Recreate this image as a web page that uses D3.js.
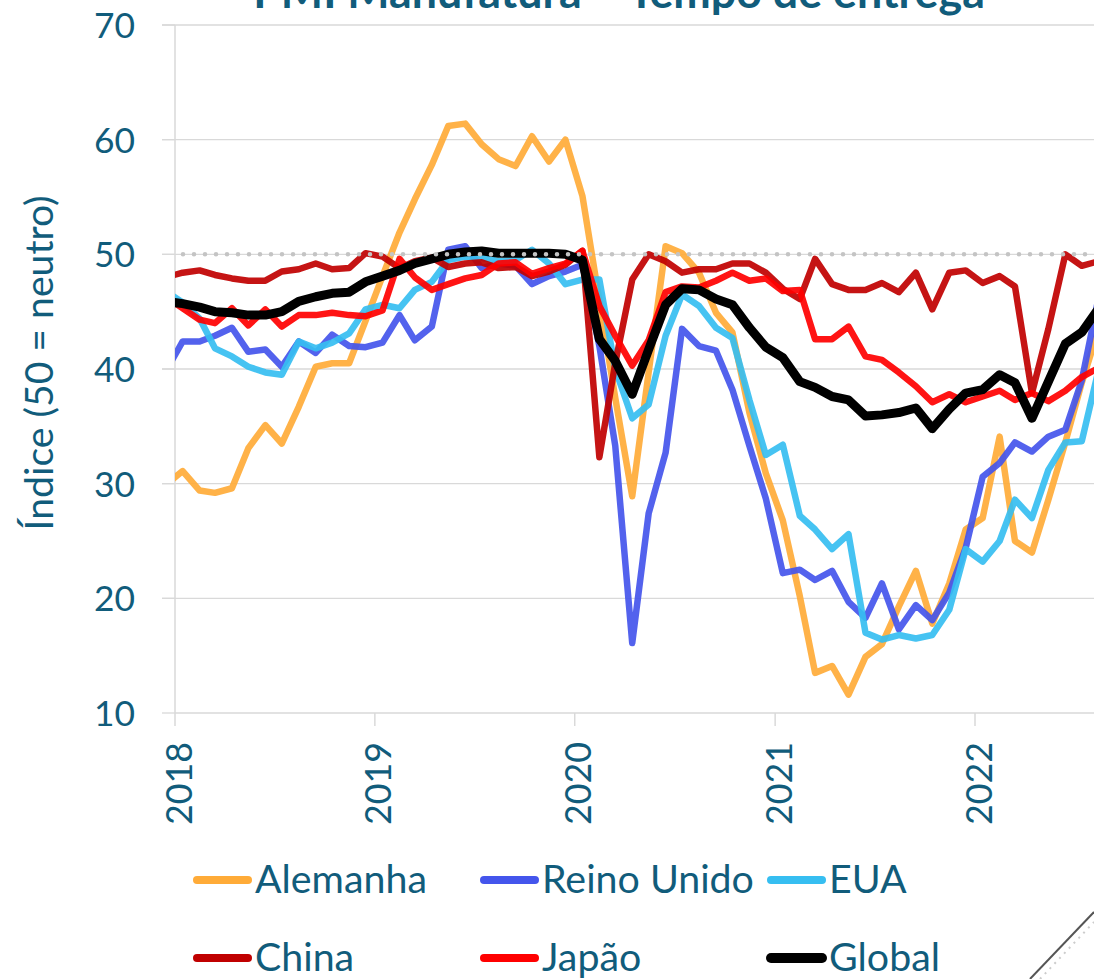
<!DOCTYPE html>
<html>
<head>
<meta charset="utf-8">
<script src="https://cdn.jsdelivr.net/npm/d3@7"></script>
<style>
  html, body { margin: 0; padding: 0; background: #fff; }
  svg { display: block; font-family: Lato, "Open Sans", sans-serif; }
</style>
</head>
<body>
<svg id="chart" width="1094" height="979"></svg>
<script>
// ---------------- DATA ----------------
const title = "PMI Manufatura – Tempo de entrega";
const yAxisTitle = "Índice (50 = neutro)";
const firstMonth = "2017-12-15"; // monthly observations, plotted mid-month
const yTicks = [10, 20, 30, 40, 50, 60, 70];
const xTickYears = [2018, 2019, 2020, 2021, 2022];
const neutral = 50;

const seriesNames = ["Alemanha", "Reino Unido", "EUA", "China", "Japão", "Global"];

const alemanha = [29.9,
  31.1, 29.4, 29.2, 29.6, 33.1, 35.1, 33.5, 36.7, 40.2, 40.5, 40.5, 44.2,
  48.1, 51.9, 54.8, 57.8, 61.2, 61.4, 59.6, 58.3, 57.7, 60.3, 58.1, 60.0,
  55.1, 46.0, 37.5, 28.9, 39.7, 50.7, 50.1, 48.4, 44.9, 43.2, 36.2, 30.9,
  26.8, 20.2, 13.5, 14.1, 11.6, 14.9, 16.0, 19.3, 22.4, 17.8, 21.3, 26.0,
  27.0, 34.1, 25.0, 24.0, 28.6, 33.6, 38.8, 43.5];

const reinoUnido = [39.8,
  42.4, 42.4, 42.9, 43.6, 41.5, 41.7, 40.2, 42.4, 41.4, 43.0, 42.0, 41.9,
  42.3, 44.7, 42.5, 43.7, 50.4, 50.7, 48.8, 49.2, 49.0, 47.4, 48.1, 48.5,
  49.1, 42.0, 33.3, 16.1, 27.4, 32.7, 43.5, 42.0, 41.6, 38.2, 33.3, 28.7,
  22.2, 22.5, 21.6, 22.4, 19.7, 18.3, 21.3, 17.3, 19.4, 18.1, 20.5, 24.4,
  30.6, 31.8, 33.6, 32.8, 34.1, 34.7, 39.0, 46.3];

const eua = [46.8,
  45.8, 44.4, 41.8, 41.1, 40.2, 39.7, 39.5, 42.4, 41.8, 42.3, 43.1, 45.2,
  45.6, 45.3, 46.9, 47.6, 49.5, 49.8, 49.7, 49.4, 49.5, 50.4, 49.2, 47.4,
  47.8, 47.8, 40.0, 35.7, 36.9, 42.9, 46.5, 45.5, 43.6, 42.7, 37.3, 32.5,
  33.4, 27.2, 26.0, 24.3, 25.6, 17.0, 16.4, 16.8, 16.5, 16.8, 19.0, 24.3,
  23.2, 25.0, 28.6, 27.0, 31.2, 33.6, 33.7, 40.0];

const china = [48.0,
  48.4, 48.6, 48.2, 47.9, 47.7, 47.7, 48.5, 48.7, 49.2, 48.7, 48.8, 50.1,
  49.8, 48.8, 49.4, 49.7, 48.9, 49.2, 49.3, 48.8, 48.9, 48.1, 48.5, 49.1,
  50.3, 32.3, 40.5, 47.8, 50.0, 49.4, 48.4, 48.7, 48.7, 49.2, 49.2, 48.4,
  47.0, 46.1, 49.6, 47.4, 46.9, 46.9, 47.5, 46.7, 48.4, 45.2, 48.4, 48.6,
  47.5, 48.1, 47.2, 37.9, 43.5, 50.0, 49.0, 49.4];

const japao = [46.3,
  45.3, 44.3, 44.0, 45.3, 43.8, 45.2, 43.7, 44.7, 44.7, 44.9, 44.7, 44.6,
  45.1, 49.6, 48.0, 46.9, 47.4, 47.9, 48.2, 49.2, 49.3, 48.3, 48.8, 49.2,
  50.3, 45.5, 42.9, 40.3, 42.5, 46.7, 47.2, 47.1, 47.7, 48.4, 47.7, 47.9,
  46.8, 46.9, 42.6, 42.6, 43.7, 41.1, 40.8, 39.7, 38.5, 37.1, 37.8, 37.1,
  37.6, 38.1, 37.3, 37.9, 37.2, 38.1, 39.3, 40.1];

const global = [45.9,
  45.7, 45.4, 45.0, 44.9, 44.7, 44.7, 45.0, 45.9, 46.3, 46.6, 46.7, 47.6,
  48.1, 48.6, 49.2, 49.6, 50.0, 50.2, 50.3, 50.1, 50.1, 50.1, 50.1, 50.0,
  49.5, 42.6, 40.7, 37.8, 41.7, 45.6, 47.0, 46.9, 46.1, 45.6, 43.6, 41.9,
  41.0, 38.9, 38.4, 37.6, 37.3, 35.9, 36.0, 36.2, 36.6, 34.8, 36.5, 37.9,
  38.2, 39.5, 38.8, 35.7, 38.9, 42.2, 43.2, 45.3];

const seriesValues = [alemanha, reinoUnido, eua, china, japao, global];
const seriesColors = ["#FFAB38", "#4455EC", "#36BEF1", "#C00000", "#FF0000", "#000000"];

// ---------------- LAYOUT ----------------
const W = 1094, H = 979;
const plot = { left: 175, top: 25, bottom: 713 };
const textColor = "#115C7B";
const gridColor = "#D9D9D9";

const svg = d3.select("#chart");
svg.append("rect").attr("width", W).attr("height", H).attr("fill", "#fff");

const x = d3.scaleTime()
  .domain([new Date(2018, 0, 1), new Date(2022, 0, 1)])
  .range([175, 975]);
const y = d3.scaleLinear().domain([10, 70]).range([plot.bottom, plot.top]);

const parse = d3.timeParse("%Y-%m-%d");
const start = parse(firstMonth);
const dates = alemanha.map((_, i) => d3.timeMonth.offset(start, i));

function fitWidth(sel, target) {
  const w = sel.node().getComputedTextLength();
  const fs = parseFloat(sel.attr("font-size"));
  return fs * target / w;
}

// title (partly cut off at top, as in the reference)
const t = svg.append("text").text(title)
  .attr("x", 619).attr("y", 8).attr("text-anchor", "middle")
  .attr("font-weight", "bold").attr("font-size", 38).attr("fill", textColor);
t.attr("font-size", fitWidth(t, 732));

// horizontal grid + y ticks
const yAxisG = svg.append("g");
yAxisG.selectAll("line.grid").data(yTicks.filter(d => d > 10)).join("line")
  .attr("x1", 162).attr("x2", W)
  .attr("y1", d => y(d)).attr("y2", d => y(d))
  .attr("stroke", gridColor).attr("stroke-width", 1.3);
yAxisG.selectAll("line.tick").data(yTicks).join("line")
  .attr("x1", 162).attr("x2", 175)
  .attr("y1", d => y(d)).attr("y2", d => y(d))
  .attr("stroke", gridColor).attr("stroke-width", 1.3);

const probe = svg.append("text").text("70").attr("font-size", 35);
const yfs = fitWidth(probe, 41);
probe.remove();
yAxisG.selectAll("text").data(yTicks).join("text")
  .text(d => d)
  .attr("x", 135).attr("y", d => y(d) + 0.37 * yfs)
  .attr("text-anchor", "end").attr("font-size", yfs).attr("fill", textColor);

// y axis line
svg.append("line").attr("x1", 175).attr("x2", 175).attr("y1", plot.top).attr("y2", plot.bottom)
  .attr("stroke", gridColor).attr("stroke-width", 1.5);

// x axis line + ticks
svg.append("line").attr("x1", 175).attr("x2", W).attr("y1", plot.bottom).attr("y2", plot.bottom)
  .attr("stroke", gridColor).attr("stroke-width", 1.5);
const xTickDates = xTickYears.map(yr => new Date(yr, 0, 1));
svg.selectAll("line.xtick").data(xTickDates).join("line")
  .attr("x1", d => x(d)).attr("x2", d => x(d))
  .attr("y1", plot.bottom).attr("y2", plot.bottom + 13)
  .attr("stroke", gridColor).attr("stroke-width", 1.5);

const probe2 = svg.append("text").text("2019").attr("font-size", 35);
const xfs = fitWidth(probe2, 83);
probe2.remove();
svg.selectAll("text.xlab").data(xTickYears).join("text")
  .attr("class", "xlab")
  .text(d => d)
  .attr("transform", d => `translate(${x(new Date(d, 0, 1)) + 16.5},742) rotate(-90)`)
  .attr("text-anchor", "end").attr("font-size", xfs).attr("fill", textColor);

// y axis title
const yt = svg.append("text").text(yAxisTitle)
  .attr("transform", "translate(53,363) rotate(-90)")
  .attr("text-anchor", "middle").attr("font-size", 36).attr("fill", textColor);
yt.attr("font-size", fitWidth(yt, 335));

// clip for lines
svg.append("clipPath").attr("id", "plotclip")
  .append("rect").attr("x", 175).attr("y", 0).attr("width", W - 175).attr("height", H);

const line = d3.line().x((d, i) => x(dates[i])).y(d => y(d));

const linesG = svg.append("g").attr("clip-path", "url(#plotclip)");
seriesValues.forEach((vals, si) => {
  const isGlobal = si === 5;
  linesG.append("path")
    .attr("d", line(vals))
    .attr("fill", "none")
    .attr("stroke", seriesColors[si])
    .attr("stroke-opacity", isGlobal ? 1 : 0.92)
    .attr("stroke-width", isGlobal ? 9 : 6.5)
    .attr("stroke-linejoin", "round")
    .attr("stroke-linecap", "round");
});

// neutral dotted line on top
svg.append("line")
  .attr("x1", 183).attr("x2", W).attr("y1", y(neutral)).attr("y2", y(neutral))
  .attr("stroke", "#C4C4C4").attr("stroke-width", 4.5)
  .attr("stroke-linecap", "round").attr("stroke-dasharray", "0 11");

// legend
const legendPos = [
  { lx: 197, tx: 255, ly: 880 }, { lx: 484, tx: 542, ly: 880 }, { lx: 771, tx: 829, ly: 880 },
  { lx: 197, tx: 255, ly: 958 }, { lx: 484, tx: 542, ly: 958 }, { lx: 771, tx: 829, ly: 958 }
];
const probe3 = svg.append("text").text(seriesNames[0]).attr("font-size", 38);
const lfs = fitWidth(probe3, 172);
probe3.remove();
const lg = svg.append("g");
seriesNames.forEach((name, i) => {
  const p = legendPos[i];
  lg.append("line").attr("x1", p.lx).attr("x2", p.lx + 51)
    .attr("y1", p.ly).attr("y2", p.ly)
    .attr("stroke", seriesColors[i]).attr("stroke-width", i === 5 ? 10 : 8)
    .attr("stroke-linecap", "round");
  lg.append("text").text(name).attr("x", p.tx).attr("y", p.ly + 13)
    .attr("font-size", lfs).attr("fill", textColor);
});

// page-curl decoration bottom right
svg.append("line").attr("x1", 1030).attr("y1", 979).attr("x2", 1094).attr("y2", 912)
  .attr("stroke", "#555").attr("stroke-width", 2);
svg.append("line").attr("x1", 1040).attr("y1", 979).attr("x2", 1094).attr("y2", 922)
  .attr("stroke", "#ccc").attr("stroke-width", 2).attr("stroke-dasharray", "2 5");
</script>
</body>
</html>
